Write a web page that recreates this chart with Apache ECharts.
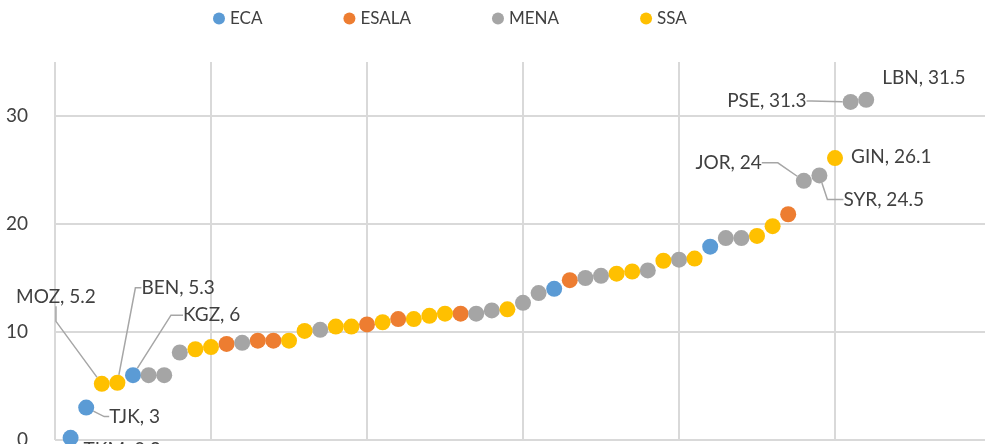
<!DOCTYPE html>
<html>
<head>
<meta charset="utf-8">
<script src="https://cdn.jsdelivr.net/npm/echarts@6/dist/echarts.min.js"></script>
<style>
html, body { margin: 0; padding: 0; background: #fff; }
#main { width: 985px; height: 444px; }
</style>
</head>
<body>
<div id="main"></div>
<script>
var regions = ['ECA', 'ESALA', 'MENA', 'SSA'];
var regionColors = ['#5b9bd5', '#ed7d31', '#a5a5a5', '#ffc000'];

// countries sorted by value, rank 1..52
var values = [0.2, 3, 5.2, 5.3, 6, 6.0, 6.0, 8.1, 8.4, 8.6,
    8.9, 9.0, 9.2, 9.2, 9.2, 10.1, 10.2, 10.5, 10.5, 10.7,
    10.9, 11.2, 11.2, 11.5, 11.7, 11.7, 11.7, 12.0, 12.1, 12.7,
    13.6, 14.0, 14.8, 15.0, 15.2, 15.4, 15.6, 15.7, 16.6, 16.7,
    16.8, 17.9, 18.7, 18.7, 18.9, 19.8, 20.9, 24, 24.5, 26.1,
    31.3, 31.5];
var regionOf = ['ECA', 'ECA', 'SSA', 'SSA', 'ECA', 'MENA', 'MENA', 'MENA', 'SSA', 'SSA',
    'ESALA', 'MENA', 'ESALA', 'ESALA', 'SSA', 'SSA', 'MENA', 'SSA', 'SSA', 'ESALA',
    'SSA', 'ESALA', 'SSA', 'SSA', 'SSA', 'ESALA', 'MENA', 'MENA', 'SSA', 'MENA',
    'MENA', 'ECA', 'ESALA', 'MENA', 'MENA', 'SSA', 'SSA', 'MENA', 'SSA', 'MENA',
    'SSA', 'ECA', 'MENA', 'MENA', 'SSA', 'SSA', 'ESALA', 'MENA', 'MENA', 'SSA',
    'MENA', 'MENA'];
var codes = ['TKM', 'TJK', 'MOZ', 'BEN', 'KGZ', '', '', '', '', '',
    '', '', '', '', '', '', '', '', '', '',
    '', '', '', '', '', '', '', '', '', '',
    '', '', '', '', '', '', '', '', '', '',
    '', '', '', '', '', '', '', 'JOR', 'SYR', 'GIN',
    'PSE', 'LBN'];

// where each data label sits (pixel shift from default spot) and leader length
var labelPlace = {
    TKM: {pos: 'right', dx: -6, dy: 12, line: -1},
    TJK: {pos: 'right', dx: 4, dy: 9, line: 5},
    MOZ: {pos: 'left', dx: 13, dy: -87, line: 15},
    BEN: {pos: 'right', dx: 5, dy: -95, line: 6},
    KGZ: {pos: 'right', dx: 31, dy: -60, line: 12},
    JOR: {pos: 'left', dx: -23, dy: -18, line: 16},
    SYR: {pos: 'right', dx: 5, dy: 24, line: 16},
    GIN: {pos: 'right', dx: -3, dy: -1, line: -1},
    PSE: {pos: 'left', dx: -25, dy: -1, line: 5},
    LBN: {pos: 'right', dx: -3, dy: -22, line: -1}
};

var txtColor = '#404040';
var font = 'Lato';

var series = [];
for (var r = 0; r < regions.length; r++) {
    var data = [];
    for (var i = 0; i < values.length; i++) {
        if (regionOf[i] !== regions[r]) continue;
        var item = {name: codes[i], value: [i + 1, values[i]]};
        var lp = labelPlace[codes[i]];
        if (lp) {
            item.label = {show: true, position: lp.pos};
            item.labelLine = {show: lp.line >= 0, length2: Math.max(lp.line, 0)};
        }
        data.push(item);
    }
    series.push({
        name: regions[r],
        type: 'scatter',
        symbolSize: 16,
        itemStyle: {color: regionColors[r], opacity: 1},
        label: {
            show: false,
            fontFamily: font,
            fontSize: 19,
            color: txtColor,
            padding: [0, 6],
            formatter: function (p) {
                return p.name + ', ' + p.value[1];
            }
        },
        labelLine: {
            show: false,
            lineStyle: {color: '#a6a6a6', width: 1.5}
        },
        labelLayout: function (p) {
            var lp = labelPlace[p.text.split(',')[0]];
            return lp ? {dx: lp.dx, dy: lp.dy} : {};
        },
        emphasis: {disabled: true},
        data: data
    });
}

var option = {
    animation: false,
    color: regionColors,
    legend: {
        top: 5,
        left: 208,
        itemWidth: 12,
        itemHeight: 12,
        itemGap: 81,
        icon: 'circle',
        textStyle: {fontFamily: font, fontSize: 17, color: txtColor},
        data: regions
    },
    grid: {
        left: 55,
        top: 62,
        width: 936,
        bottom: 4,
        outerBoundsMode: 'none',
        containLabel: false
    },
    xAxis: {
        type: 'value',
        min: 0,
        max: 60,
        interval: 10,
        axisLine: {show: false},
        axisTick: {show: false},
        axisLabel: {show: false},
        splitLine: {show: true, lineStyle: {color: '#d9d9d9', width: 2}}
    },
    yAxis: {
        type: 'value',
        min: 0,
        max: 35,
        interval: 10,
        axisLine: {show: false},
        axisTick: {show: false},
        axisLabel: {
            showMaxLabel: false,
            margin: 27,
            fontFamily: font,
            fontSize: 19,
            color: txtColor
        },
        splitLine: {show: true, showMaxLine: false, lineStyle: {color: '#d9d9d9', width: 2}}
    },
    series: series
};

var chart = echarts.init(document.getElementById('main'));
chart.setOption(option);
</script>
</body>
</html>
